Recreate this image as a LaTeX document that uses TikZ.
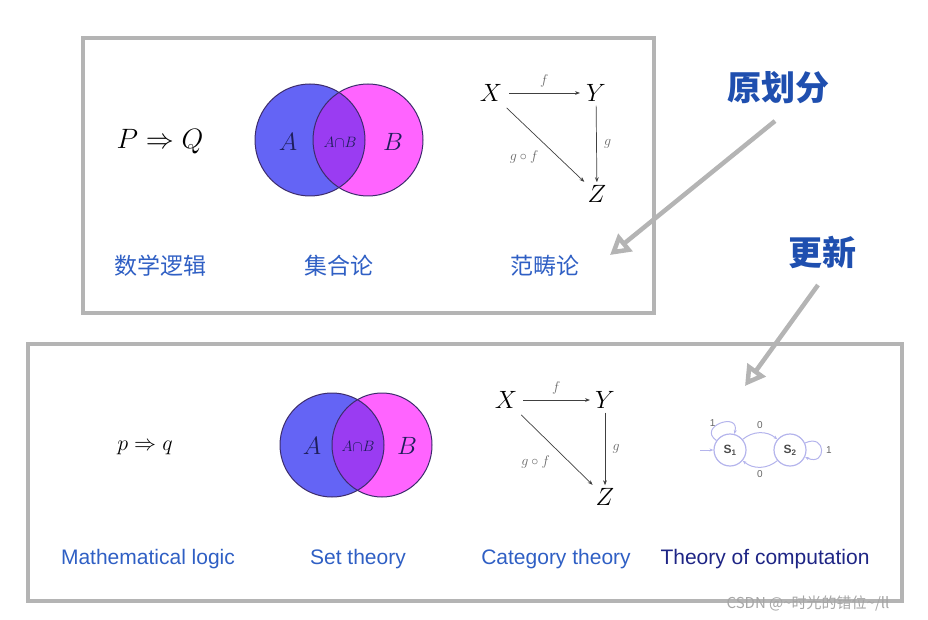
\documentclass[tikz,border=0pt]{standalone}
\usepackage{fix-cm}
\usepackage[no-math]{fontspec}
\setmainfont{Liberation Sans}
\newfontfamily\cjkfont{Noto Sans CJK SC}
\usetikzlibrary{arrows.meta}

\definecolor{cnblue}{HTML}{2F5FC4}
\definecolor{noteblue}{HTML}{1F4FAF}
\definecolor{navy}{HTML}{1E2585}
\definecolor{boxgray}{HTML}{B4B4B4}
\definecolor{vennblue}{HTML}{6464F5}
\definecolor{vennpink}{HTML}{FF64FF}
\definecolor{vennmix}{HTML}{9A3CF2}
\definecolor{vennedge}{HTML}{3C2C6C}
\definecolor{setink}{HTML}{1E1E5A}
\definecolor{fsmline}{HTML}{B4B4EC}

\begin{document}
\begin{tikzpicture}[x=1pt,y=-1pt,
  frame/.style={draw=boxgray,line width=4pt},
  cnlab/.style={font=\cjkfont\fontsize{23}{23}\selectfont,text=cnblue},
  enlab/.style={font=\fontsize{21}{21}\selectfont,text=cnblue},
  note/.style={font=\cjkfont\bfseries\fontsize{34}{34}\selectfont,text=noteblue},
  pointer/.style={draw=boxgray,line width=4.5pt,-{Triangle[open,length=20pt,width=22pt]}},
  obj/.style={font=\fontsize{25}{25}\selectfont,inner sep=2pt},
  mor/.style={draw=black!75,line width=0.7pt,-{Stealth[length=5pt]}},
  morlab/.style={font=\fontsize{14}{14}\selectfont,text=black!60},
  setlab/.style={font=\fontsize{25}{25}\selectfont,text=setink},
  caplab/.style={font=\fontsize{15}{15}\selectfont,text=setink},
  state/.style={circle,draw=fsmline,line width=1.2pt,minimum size=32pt,inner sep=0pt,
    font=\bfseries\fontsize{12}{12}\selectfont,text=black!70},
  fsm/.style={draw=fsmline,line width=1pt,-{Stealth[length=4pt]}},
  fsmlab/.style={font=\fontsize{10}{10}\selectfont,text=black!60}]
  \useasboundingbox (0,0) rectangle (928,620);

  % the two frames
  \draw[frame] (83,38) rectangle (654,313);
  \draw[frame] (28,344) rectangle (902,601);

  % upper row
  \node (pq) at (160,142) {\fontsize{28}{28}\selectfont $P \Rightarrow Q$};

  \fill[vennblue] (310,140) ellipse (55 and 56);
  \fill[vennpink] (368,140) ellipse (55 and 56);
  \begin{scope}
    \clip (310,140) ellipse (55 and 56);
    \fill[vennmix] (368,140) ellipse (55 and 56);
  \end{scope}
  \draw[vennedge,line width=1pt] (310,140) ellipse (55 and 56);
  \draw[vennedge,line width=1pt] (368,140) ellipse (55 and 56);
  \node[setlab] (a1) at (288,142) {$A$};
  \node[caplab] (ab1) at (340,142) {$A{\cap}B$};
  \node[setlab] (b1) at (393,142) {$B$};

  \node[obj] (x1) at (491,93) {$X$};
  \node[obj] (y1) at (596,93) {$Y$};
  \node[obj] (z1) at (597,194) {$Z$};
  \draw[mor,shorten <=5pt,shorten >=4pt] (x1) -- node[morlab,above=2pt] {$f$} (y1);
  \draw[mor,shorten <=2pt,shorten >=1pt] (y1) -- node[morlab,right=4pt] {$g$} (z1);
  \draw[mor,shorten <=6pt,shorten >=2pt] (x1) -- node[morlab,below left=4pt,xshift=2pt] {$g\circ f$} (z1);

  \node[cnlab] (l1) at (160,266) {数学逻辑};
  \node[cnlab] (l2) at (339,266) {集合论};
  \node[cnlab] (l3) at (545,266) {范畴论};

  % notes
  \node[note] (n1) at (778,88) {原划分};
  \coordinate (t1) at (610,255);
  \draw[pointer] (n1) ++(-3,33) -- (t1);
  \node[note] (n2) at (822,252) {更新};
  \coordinate (t2) at (745,386);
  \draw[pointer] (n2) ++(-4,33) -- (t2);

  % lower row
  \node (pq2) at (145,448) {\fontsize{22}{22}\selectfont $p \Rightarrow q$};

  \fill[vennblue] (332,445) ellipse (52 and 52);
  \fill[vennpink] (382,445) ellipse (50 and 52);
  \begin{scope}
    \clip (332,445) ellipse (52 and 52);
    \fill[vennmix] (382,445) ellipse (50 and 52);
  \end{scope}
  \draw[vennedge,line width=1pt] (332,445) ellipse (52 and 52);
  \draw[vennedge,line width=1pt] (382,445) ellipse (50 and 52);
  \node[setlab] (a2) at (312,446) {$A$};
  \node[caplab] (ab2) at (358,446) {$A{\cap}B$};
  \node[setlab] (b2) at (407,446) {$B$};

  \node[obj] (x2) at (506,400) {$X$};
  \node[obj] (y2) at (605,400) {$Y$};
  \node[obj] (z2) at (605,497) {$Z$};
  \draw[mor,shorten <=4pt,shorten >=3pt] (x2) -- node[morlab,above=2pt] {$f$} (y2);
  \draw[mor,shorten <=2pt,shorten >=1pt] (y2) -- node[morlab,right=4pt] {$g$} (z2);
  \draw[mor,shorten <=6pt,shorten >=2pt] (x2) -- node[morlab,below left=4pt,xshift=2pt] {$g\circ f$} (z2);

  % y runs downwards, so the control angles below are mirrored
  \node[state] (s1) at (730,450) {S\textsubscript{1}};
  \node[state] (s2) at (790,450) {S\textsubscript{2}};
  \coordinate (init) at (700,450);
  \draw[fsm] (init) -- (s1);
  \draw[fsm] (s1) to[bend left=40] node[fsmlab,above] {0} (s2);
  \draw[fsm] (s2) to[bend left=40] node[fsmlab,below] {0} (s1);
  \draw[fsm] (s1.145) .. controls +(-145:24) and +(-75:24) .. node[fsmlab,left=1pt] {1} (s1.75);
  \draw[fsm] (s2.25) .. controls +(-25:24) and +(25:24) .. node[fsmlab,right=1pt] {1} (s2.-25);

  \node[enlab] (m1) at (148,559) {Mathematical logic};
  \node[enlab] (m2) at (358,559) {Set theory};
  \node[enlab] (m3) at (556,559) {Category theory};
  \node[enlab,text=navy] (m4) at (765,559) {Theory of computation};

  \node[font=\cjkfont\fontsize{15}{15}\selectfont,text=black!35] (wm) at (808,603) {CSDN @\textasciitilde 时光的错位\textasciitilde/ll};
\end{tikzpicture}
\end{document}
